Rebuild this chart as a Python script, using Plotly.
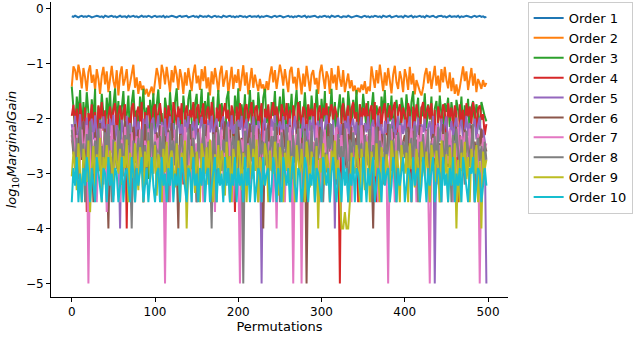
import plotly.graph_objects as go

permutations = list(range(0, 500, 2))

order1 = [-0.14,-0.15,-0.13,-0.14,-0.16,-0.14,-0.13,-0.15,-0.14,-0.15,-0.13,-0.14,-0.16,-0.15,-0.14,-0.13,-0.14,-0.15,-0.14,-0.16,-0.13,-0.14,-0.15,-0.14,-0.13,
 -0.15,-0.14,-0.16,-0.14,-0.13,-0.15,-0.14,-0.14,-0.16,-0.13,-0.15,-0.14,-0.13,-0.15,-0.14,-0.16,-0.14,-0.13,-0.15,-0.14,-0.15,-0.13,-0.14,-0.16,-0.14,
 -0.13,-0.15,-0.14,-0.14,-0.15,-0.13,-0.16,-0.14,-0.15,-0.14,-0.13,-0.14,-0.15,-0.16,-0.14,-0.13,-0.15,-0.14,-0.14,-0.13,-0.16,-0.15,-0.14,-0.13,-0.15,
 -0.14,-0.16,-0.13,-0.14,-0.15,-0.14,-0.15,-0.13,-0.14,-0.16,-0.14,-0.13,-0.15,-0.14,-0.15,-0.16,-0.13,-0.14,-0.15,-0.14,-0.13,-0.15,-0.14,-0.16,-0.14,
 -0.15,-0.13,-0.14,-0.15,-0.14,-0.16,-0.14,-0.13,-0.15,-0.14,-0.14,-0.15,-0.13,-0.16,-0.14,-0.15,-0.14,-0.13,-0.14,-0.15,-0.16,-0.14,-0.13,-0.15,-0.14,
 -0.13,-0.14,-0.16,-0.15,-0.14,-0.13,-0.15,-0.14,-0.16,-0.14,-0.15,-0.13,-0.14,-0.15,-0.14,-0.13,-0.16,-0.14,-0.15,-0.14,-0.14,-0.13,-0.15,-0.16,-0.14,
 -0.15,-0.14,-0.13,-0.15,-0.14,-0.16,-0.13,-0.14,-0.15,-0.14,-0.13,-0.15,-0.16,-0.14,-0.14,-0.15,-0.13,-0.14,-0.16,-0.15,-0.14,-0.13,-0.14,-0.15,-0.16,
 -0.14,-0.13,-0.15,-0.14,-0.16,-0.14,-0.15,-0.13,-0.14,-0.15,-0.14,-0.16,-0.13,-0.14,-0.15,-0.14,-0.13,-0.16,-0.15,-0.14,-0.13,-0.15,-0.14,-0.14,-0.16,
 -0.13,-0.14,-0.15,-0.14,-0.13,-0.16,-0.14,-0.15,-0.14,-0.13,-0.15,-0.14,-0.16,-0.13,-0.14,-0.15,-0.14,-0.13,-0.15,-0.16,-0.14,-0.14,-0.13,-0.15,-0.14,
 -0.16,-0.14,-0.13,-0.15,-0.14,-0.14,-0.15,-0.13,-0.16,-0.14,-0.15,-0.14,-0.13,-0.14,-0.15,-0.16,-0.14,-0.13,-0.15,-0.14,-0.13,-0.15,-0.14,-0.16,-0.15]

order2 = [-1.42,-1.05,-1.12,-1.30,-1.02,-1.18,-1.45,-1.08,-1.25,-1.50,-1.15,-1.03,-1.35,-1.20,-1.48,-1.10,-1.28,-1.55,-1.22,-1.06,-1.38,-1.14,-1.52,-1.26,-1.04,
 -1.32,-1.45,-1.12,-1.58,-1.20,-1.05,-1.40,-1.28,-1.10,-1.50,-1.36,-1.18,-1.02,-1.44,-1.25,-1.55,-1.32,-1.48,-1.40,-1.56,-1.46,-1.60,-1.52,-1.42,-1.58,
 -1.30,-1.08,-1.22,-1.46,-1.02,-1.15,-1.38,-1.06,-1.28,-1.52,-1.12,-1.34,-1.04,-1.20,-1.48,-1.10,-1.26,-1.55,-1.16,-1.40,-1.08,-1.30,-1.50,-1.18,-1.02,
 -1.36,-1.22,-1.48,-1.10,-1.32,-1.05,-1.45,-1.25,-1.58,-1.14,-1.38,-1.08,-1.28,-1.52,-1.18,-1.04,-1.42,-1.26,-1.12,-1.55,-1.30,-1.06,-1.46,-1.20,-1.35,
 -1.10,-1.50,-1.24,-1.03,-1.40,-1.16,-1.56,-1.30,-1.08,-1.44,-1.20,-1.36,-1.50,-1.28,-1.45,-1.38,-1.55,-1.32,-1.48,-1.22,-1.05,-1.34,-1.12,-1.46,-1.26,
 -1.02,-1.18,-1.40,-1.10,-1.30,-1.52,-1.14,-1.06,-1.36,-1.24,-1.48,-1.08,-1.28,-1.56,-1.18,-1.42,-1.04,-1.32,-1.50,-1.20,-1.12,-1.38,-1.26,-1.55,-1.16,
 -1.02,-1.30,-1.46,-1.14,-1.24,-1.55,-1.08,-1.36,-1.20,-1.48,-1.04,-1.28,-1.42,-1.12,-1.52,-1.34,-1.18,-1.45,-1.30,-1.50,-1.40,-1.56,-1.44,-1.52,-1.38,
 -1.48,-1.32,-1.55,-1.42,-1.50,-1.05,-1.26,-1.44,-1.12,-1.36,-1.02,-1.22,-1.50,-1.16,-1.40,-1.08,-1.30,-1.54,-1.20,-1.04,-1.34,-1.46,-1.14,-1.28,-1.52,
 -1.10,-1.24,-1.48,-1.06,-1.38,-1.18,-1.56,-1.30,-1.42,-1.50,-1.58,-1.44,-1.20,-1.08,-1.36,-1.14,-1.46,-1.28,-1.04,-1.40,-1.22,-1.52,-1.10,-1.34,-1.06,
 -1.30,-1.45,-1.16,-1.50,-1.26,-1.55,-1.38,-1.58,-1.44,-1.20,-1.05,-1.32,-1.14,-1.48,-1.24,-1.08,-1.40,-1.18,-1.52,-1.28,-1.36,-1.46,-1.30,-1.42,-1.35]

order3 = [-1.42,-1.85,-2.20,-1.60,-1.95,-1.48,-2.35,-1.70,-2.10,-1.52,-1.88,-2.45,-1.65,-2.05,-1.46,-3.40,-1.78,-2.15,-1.55,-1.92,-2.30,-1.62,-2.00,-1.50,-2.25,
 -1.75,-1.45,-2.10,-1.68,-2.60,-1.82,-1.50,-2.20,-1.95,-1.58,-2.40,-1.72,-1.48,-2.05,-1.85,-2.28,-1.60,-1.98,-1.46,-2.15,-1.80,-3.10,-1.66,-2.02,-1.54,
 -2.25,-1.76,-1.47,-2.10,-1.90,-2.50,-1.62,-1.85,-2.18,-1.52,-1.96,-2.35,-1.70,-1.45,-2.08,-1.82,-2.42,-1.58,-1.92,-2.20,-1.65,-1.48,-2.05,-2.70,-1.75,
 -1.55,-2.12,-1.88,-1.46,-2.30,-1.68,-2.00,-1.52,-2.22,-1.80,-1.60,-2.45,-1.92,-1.48,-2.15,-1.72,-2.02,-2.80,-1.64,-1.50,-2.10,-1.86,-2.35,-1.58,-1.95,
 -1.45,-2.20,-1.74,-2.05,-1.56,-2.40,-1.82,-1.48,-2.12,-1.66,-1.98,-2.30,-1.52,-1.88,-2.18,-1.62,-1.46,-2.08,-1.78,-2.55,-1.70,-1.95,-1.50,-2.25,-1.84,
 -1.60,-2.15,-1.46,-1.92,-2.38,-1.72,-2.02,-1.55,-2.20,-1.80,-1.48,-2.10,-1.68,-2.45,-1.86,-1.52,-2.00,-1.75,-2.28,-1.58,-1.94,-2.12,-1.47,-1.82,-2.32,
 -1.64,-2.05,-1.50,-2.60,-1.78,-1.96,-1.46,-2.18,-1.70,-2.40,-1.85,-1.56,-2.08,-1.62,-1.92,-2.25,-1.50,-1.80,-2.12,-1.66,-1.98,-1.48,-2.35,-1.74,-2.02,
 -1.55,-1.88,-2.20,-1.68,-3.20,-1.82,-1.52,-2.10,-1.76,-1.95,-2.42,-1.60,-1.90,-1.48,-2.15,-1.72,-2.05,-1.58,-2.30,-1.84,-1.66,-1.98,-2.50,-1.62,-1.80,
 -2.08,-1.56,-1.92,-2.25,-1.70,-1.50,-2.12,-1.86,-1.62,-2.38,-1.78,-1.96,-1.54,-2.18,-1.74,-2.02,-1.60,-2.45,-1.82,-1.68,-2.10,-1.58,-1.94,-2.28,-1.72,
 -1.88,-1.62,-2.15,-1.70,-1.95,-2.40,-1.66,-1.84,-2.05,-1.60,-2.22,-1.76,-1.98,-1.64,-2.30,-1.80,-1.68,-2.10,-1.74,-1.92,-2.20,-1.70,-1.86,-1.96,-2.05]

order4 = [-1.95,-1.75,-2.10,-1.82,-2.25,-1.72,-1.98,-2.35,-1.80,-3.70,-1.90,-2.05,-1.74,-2.18,-1.88,-2.40,-1.76,-2.00,-1.70,-2.22,-1.85,-3.52,-1.95,-1.78,-2.12,
 -1.84,-1.72,-2.30,-1.92,-1.76,-2.08,-1.86,-1.74,-4.00,-1.98,-2.20,-1.80,-1.72,-2.45,-1.90,-1.78,-2.05,-1.70,-3.52,-1.88,-2.15,-1.76,-1.96,-2.28,-1.82,
 -1.74,-2.10,-1.88,-1.72,-2.00,-3.52,-1.80,-2.25,-1.76,-1.94,-2.35,-1.70,-1.86,-2.12,-1.78,-2.02,-1.72,-3.20,-1.90,-1.76,-2.18,-1.84,-1.98,-1.70,-2.30,
 -1.82,-1.74,-2.08,-1.92,-1.72,-2.40,-1.86,-1.78,-2.15,-1.70,-1.96,-3.52,-1.80,-2.05,-1.74,-2.22,-1.88,-1.72,-2.00,-1.84,-2.32,-1.76,-1.90,-3.70,-1.78,
 -2.10,-1.72,-1.94,-2.26,-1.80,-1.74,-2.05,-1.88,-1.70,-2.38,-1.84,-1.76,-2.12,-1.92,-1.72,-3.52,-1.82,-2.00,-1.74,-2.20,-1.86,-1.70,-2.08,-1.78,-1.96,
 -2.30,-1.74,-1.88,-2.02,-1.72,-2.15,-1.84,-3.52,-1.76,-1.98,-2.25,-1.70,-1.90,-2.10,-1.78,-1.86,-2.40,-1.74,-1.96,-1.82,-2.05,-1.72,-3.00,-1.88,-1.76,
 -2.18,-1.80,-1.94,-1.72,-2.28,-1.86,-1.74,-2.02,-1.78,-1.92,-2.12,-5.00,-1.84,-1.72,-2.20,-1.90,-1.76,-2.35,-1.82,-1.70,-2.00,-1.88,-3.52,-1.74,-2.10,
 -1.80,-1.96,-1.72,-2.22,-1.86,-1.76,-2.05,-1.70,-3.52,-1.90,-1.78,-2.15,-1.84,-1.72,-2.30,-1.94,-1.76,-2.02,-1.82,-1.70,-2.42,-1.88,-1.74,-2.08,-1.80,
 -1.92,-2.20,-1.72,-1.86,-3.52,-1.78,-2.05,-1.74,-1.96,-2.32,-1.82,-1.70,-2.12,-1.88,-1.76,-2.00,-1.72,-2.25,-1.84,-3.20,-1.78,-1.94,-2.10,-1.74,-1.86,
 -2.35,-1.72,-1.98,-1.80,-2.15,-1.76,-1.90,-3.52,-1.74,-2.05,-1.84,-2.28,-1.72,-1.96,-1.78,-2.10,-1.70,-1.88,-2.20,-1.82,-1.76,-2.02,-1.92,-2.30,-2.10]

order5 = [-2.10,-2.35,-1.95,-2.50,-2.20,-1.92,-2.60,-2.05,-2.30,-1.98,-2.45,-2.15,-2.00,-2.38,-1.94,-2.25,-2.55,-2.02,-2.18,-1.96,-2.40,-2.10,-2.65,-2.00,-2.28,
 -1.93,-2.50,-2.12,-2.35,-4.00,-2.02,-2.20,-2.48,-1.95,-2.30,-2.08,-2.60,-2.15,-1.97,-2.42,-2.05,-2.25,-3.00,-2.00,-2.32,-1.94,-2.18,-2.45,-2.06,-1.98,
 -2.38,-2.12,-1.94,-2.58,-2.06,-2.28,-2.00,-2.42,-2.15,-1.96,-2.35,-2.08,-2.50,-2.22,-1.98,-2.30,-2.10,-2.45,-2.02,-2.25,-1.95,-2.55,-2.15,-2.05,-2.38,
 -2.00,-2.60,-2.18,-1.97,-2.32,-2.10,-2.48,-2.02,-2.25,-1.95,-2.40,-2.12,-2.00,-2.30,-2.55,-2.08,-1.96,-2.35,-2.20,-2.05,-2.45,-1.94,-2.28,-2.10,-2.52,
 -2.02,-2.20,-1.95,-2.40,-2.14,-2.00,-2.62,-2.08,-2.30,-1.96,-2.18,-2.44,-2.04,-2.26,-5.00,-2.10,-1.98,-2.36,-2.12,-2.50,-2.00,-2.22,-1.94,-2.40,-2.15,
 -2.05,-2.32,-1.96,-2.55,-2.10,-2.25,-2.00,-2.42,-2.16,-1.95,-2.30,-2.06,-2.48,-2.20,-1.98,-2.35,-2.10,-2.60,-2.02,-2.24,-1.96,-2.40,-2.12,-2.04,-2.30,
 -2.00,-2.50,-2.15,-1.94,-2.28,-2.08,-2.45,-2.02,-4.00,-2.18,-1.98,-2.35,-2.10,-2.55,-2.04,-2.22,-1.95,-2.42,-2.12,-2.00,-2.30,-2.06,-2.58,-2.16,-1.97,
 -2.36,-2.08,-2.25,-1.96,-2.48,-2.14,-2.02,-2.40,-2.20,-1.94,-2.32,-2.10,-2.60,-2.04,-2.26,-1.98,-2.44,-2.12,-2.00,-2.36,-2.18,-1.95,-2.50,-2.08,-2.28,
 -2.02,-2.40,-2.14,-1.96,-2.55,-2.20,-2.05,-2.34,-1.98,-2.46,-2.10,-2.25,-2.00,-2.60,-2.16,-2.04,-2.38,-1.95,-5.00,-2.22,-2.08,-2.42,-2.00,-2.30,-2.12,
 -1.96,-2.48,-2.20,-2.04,-2.36,-2.10,-1.98,-2.55,-2.14,-2.02,-2.40,-2.24,-1.95,-2.32,-2.08,-2.50,-2.16,-2.00,-2.38,-2.12,-1.98,-2.45,-2.20,-2.40,-5.00]

order6 = [-2.30,-2.65,-2.10,-2.90,-2.45,-2.20,-2.75,-2.05,-2.55,-2.35,-2.80,-2.15,-2.60,-3.52,-2.25,-2.95,-2.40,-2.08,-2.70,-2.50,-2.18,-2.85,-4.00,-2.32,-2.62,
 -2.12,-2.45,-2.78,-2.22,-2.55,-3.20,-2.38,-2.05,-2.68,-2.90,-2.28,-2.52,-2.15,-2.80,-2.42,-2.20,-2.65,-2.35,-2.95,-2.10,-2.72,-2.30,-2.58,-2.18,-2.88,
 -2.40,-2.25,-2.62,-2.12,-2.78,-2.45,-2.32,-2.95,-2.20,-2.55,-2.08,-2.70,-2.38,-2.85,-4.00,-2.28,-2.50,-2.90,-2.22,-2.68,-2.42,-2.10,-2.80,-2.35,-2.58,
 -3.52,-2.18,-2.72,-2.45,-2.30,-2.95,-2.12,-2.62,-2.40,-2.85,-2.25,-2.55,-2.15,-2.78,-2.48,-2.32,-2.60,-2.05,-2.90,-2.38,-2.20,-2.70,-2.45,-2.28,-2.82,
 -2.15,-2.58,-2.35,-2.92,-2.22,-2.65,-2.42,-2.10,-2.75,-2.50,-2.30,-2.88,-2.18,-2.60,-2.40,-4.00,-2.25,-2.72,-2.08,-2.55,-2.95,-2.32,-2.48,-2.15,-2.68,
 -2.38,-2.82,-2.20,-2.52,-2.30,-2.90,-2.12,-2.62,-2.45,-2.75,-2.28,-2.05,-2.58,-2.35,-2.88,-2.18,-5.00,-2.70,-2.42,-2.22,-2.95,-2.50,-2.32,-2.65,-2.15,
 -2.78,-2.40,-2.25,-2.98,-2.10,-2.60,-2.45,-2.30,-2.85,-2.18,-2.55,-2.38,-2.72,-2.08,-2.62,-2.92,-2.28,-2.48,-2.15,-2.80,-2.35,-2.58,-2.22,-2.70,-2.42,
 -2.12,-2.88,-2.32,-2.55,-2.20,-2.75,-4.00,-2.40,-2.62,-2.15,-2.95,-2.28,-2.50,-2.38,-2.82,-2.10,-2.68,-2.45,-2.25,-2.90,-2.35,-2.58,-2.18,-2.72,-2.42,
 -2.30,-2.85,-2.15,-2.60,-2.48,-2.22,-2.95,-2.38,-2.70,-2.12,-2.55,-2.32,-2.80,-2.20,-2.65,-3.52,-2.42,-2.28,-2.90,-2.18,-2.58,-2.45,-2.75,-2.10,-2.62,
 -2.35,-2.88,-2.22,-2.52,-2.40,-2.78,-2.15,-2.68,-2.30,-2.95,-2.45,-2.20,-2.62,-2.38,-2.85,-2.12,-2.58,-2.42,-2.75,-2.28,-2.50,-2.18,-2.70,-2.48,-2.60]

order7 = [-2.40,-2.15,-2.85,-2.30,-3.20,-2.60,-2.20,-2.70,-2.45,-2.12,-5.00,-2.55,-2.25,-2.90,-2.35,-3.52,-2.65,-2.18,-2.80,-2.50,-2.28,-3.70,-2.42,-2.75,-2.12,
 -3.00,-2.40,-2.60,-2.22,-3.52,-2.38,-2.88,-2.15,-2.68,-2.48,-3.20,-2.25,-2.78,-2.55,-2.32,-2.95,-2.20,-2.62,-3.52,-2.40,-2.72,-2.18,-2.85,-2.45,-3.00,
 -2.28,-2.58,-2.35,-2.82,-2.12,-2.70,-5.00,-2.50,-2.25,-3.52,-2.40,-2.92,-2.20,-2.65,-2.48,-3.20,-2.30,-2.75,-2.15,-2.55,-2.88,-2.38,-3.52,-2.22,-2.62,
 -2.45,-2.95,-2.18,-2.70,-3.52,-2.32,-2.58,-2.12,-2.85,-2.40,-2.68,-3.70,-2.25,-2.78,-2.50,-2.20,-3.00,-2.42,-2.62,-2.15,-2.90,-2.35,-3.52,-2.55,-2.28,
 -2.72,-5.00,-2.38,-2.60,-2.18,-2.88,-2.45,-3.20,-2.25,-2.68,-2.52,-2.12,-2.95,-2.35,-3.52,-2.58,-2.22,-2.80,-2.42,-2.65,-2.15,-3.52,-2.48,-4.00,-2.30,
 -2.78,-2.20,-2.55,-3.52,-2.38,-2.90,-2.15,-2.62,-5.00,-2.45,-2.28,-2.72,-2.18,-5.00,-2.50,-2.35,-2.85,-3.20,-2.22,-2.60,-2.42,-2.95,-2.12,-2.68,-3.52,
 -2.32,-2.58,-2.20,-2.82,-2.45,-3.52,-2.25,-2.70,-2.40,-2.15,-2.92,-2.52,-2.30,-3.00,-2.62,-2.18,-2.78,-2.42,-3.52,-2.22,-2.55,-2.88,-2.35,-2.65,-2.12,
 -2.48,-3.20,-2.28,-2.75,-2.40,-2.60,-2.15,-2.95,-2.38,-3.52,-2.22,-2.68,-2.50,-2.32,-2.85,-5.00,-2.45,-2.18,-2.72,-3.52,-2.30,-2.58,-2.12,-2.80,-2.42,
 -2.65,-2.25,-3.00,-2.52,-2.18,-2.78,-2.40,-3.52,-2.30,-2.62,-2.15,-2.88,-2.45,-2.22,-3.20,-5.00,-2.55,-2.35,-2.72,-2.12,-2.95,-2.48,-3.52,-2.28,-2.60,
 -2.38,-2.82,-2.20,-2.55,-3.52,-2.42,-2.70,-2.15,-2.92,-2.32,-2.58,-2.25,-3.00,-2.48,-2.18,-2.75,-2.40,-3.52,-2.62,-2.28,-5.00,-2.85,-2.35,-2.55,-2.45]

order8 = [-2.20,-2.55,-2.90,-2.35,-3.10,-2.15,-2.70,-2.45,-3.52,-2.28,-2.80,-2.05,-2.62,-3.00,-2.40,-2.75,-2.18,-2.95,-2.50,-3.20,-2.25,-2.68,-2.10,-2.85,-3.52,
 -2.38,-2.60,-2.92,-2.20,-2.72,-2.45,-3.05,-2.30,-2.55,-2.12,-2.82,-4.00,-2.40,-3.52,-2.65,-2.35,-2.78,-2.20,-2.98,-2.48,-3.20,-2.25,-2.70,-2.08,-2.88,
 -2.42,-2.60,-3.10,-2.32,-2.75,-2.15,-2.95,-2.50,-3.52,-2.22,-2.68,-2.40,-2.85,-2.12,-3.00,-2.55,-2.30,-2.78,-2.45,-3.20,-2.18,-2.62,-2.92,-2.35,-2.72,
 -3.52,-2.25,-2.58,-2.88,-2.10,-2.65,-3.05,-2.42,-2.80,-4.00,-2.28,-2.55,-3.52,-2.20,-2.70,-2.95,-2.38,-2.62,-2.15,-2.85,-3.52,-2.48,-2.32,-2.75,-2.05,
 -2.90,-2.40,-2.68,-5.00,-2.22,-2.58,-3.20,-2.35,-2.78,-2.12,-2.95,-2.50,-3.52,-2.28,-2.65,-2.42,-2.85,-2.18,-3.05,-2.55,-2.32,-2.72,-2.08,-2.92,-2.45,
 -3.52,-2.25,-2.62,-2.88,-2.15,-2.70,-2.40,-3.10,-2.30,-2.80,-2.52,-2.18,-2.95,-2.45,-3.52,-2.22,-2.68,-2.38,-2.85,-2.12,-3.00,-2.58,-2.35,-2.75,-2.48,
 -2.20,-3.52,-2.62,-2.90,-2.32,-2.55,-2.10,-2.82,-2.42,-3.20,-2.28,-2.70,-2.50,-2.95,-2.18,-2.65,-3.52,-2.38,-2.78,-2.25,-2.58,-2.88,-2.12,-2.72,-2.45,
 -3.05,-2.30,-2.60,-2.85,-2.20,-3.52,-2.48,-2.75,-2.15,-2.92,-2.40,-2.62,-3.20,-2.28,-2.80,-2.52,-2.10,-2.95,-2.38,-2.68,-3.52,-2.25,-2.55,-2.85,-2.42,
 -2.72,-2.18,-3.00,-2.50,-2.35,-2.88,-2.12,-2.62,-3.52,-2.42,-2.78,-2.28,-2.95,-2.55,-2.20,-3.10,-2.45,-2.70,-2.32,-2.85,-2.15,-3.52,-2.60,-2.40,-2.92,
 -2.25,-2.68,-2.48,-3.52,-2.30,-2.82,-2.18,-2.58,-2.95,-2.38,-2.72,-3.20,-2.22,-2.62,-2.88,-2.45,-2.10,-3.52,-2.55,-2.35,-2.78,-2.50,-3.00,-2.42,-2.75]

order9 = [-3.05,-2.60,-2.85,-3.30,-2.45,-2.95,-3.52,-2.55,-2.75,-3.15,-2.40,-3.70,-2.88,-2.50,-3.25,-2.65,-2.98,-2.35,-3.52,-2.70,-2.92,-2.48,-3.10,-2.58,-2.82,
 -3.40,-2.42,-2.78,-3.00,-2.55,-3.20,-2.68,-2.90,-2.38,-3.52,-2.62,-2.85,-3.08,-2.45,-2.95,-3.30,-2.52,-2.75,-3.52,-2.60,-2.88,-2.40,-3.15,-2.70,-3.00,
 -2.48,-3.40,-2.65,-2.82,-3.52,-2.55,-2.98,-2.42,-3.10,-2.72,-2.58,-2.90,-3.25,-2.45,-2.78,-3.52,-2.62,-2.95,-2.40,-4.00,-2.85,-3.05,-2.50,-2.72,-3.35,
 -2.60,-2.88,-3.52,-2.45,-2.70,-3.00,-2.52,-3.20,-2.38,-2.80,-3.52,-2.65,-2.92,-2.48,-3.15,-2.58,-2.75,-3.40,-2.42,-2.98,-2.68,-3.52,-2.55,-2.85,-3.05,
 -2.40,-2.72,-3.30,-2.62,-2.90,-3.52,-2.48,-2.78,-3.10,-2.55,-2.95,-2.38,-3.52,-2.70,-2.85,-3.20,-2.45,-2.65,-3.52,-2.58,-2.92,-3.00,-2.42,-2.80,-3.40,
 -2.52,-2.75,-3.52,-2.62,-2.95,-2.40,-3.15,-2.68,-2.88,-3.52,-2.48,-2.78,-3.05,-2.55,-2.92,-3.52,-2.42,-2.70,-3.25,-2.60,-2.85,-3.52,-2.50,-4.00,-2.72,
 -2.98,-2.45,-3.20,-2.65,-2.82,-3.52,-2.58,-2.90,-2.40,-3.10,-2.75,-3.52,-4.00,-4.00,-3.70,-4.00,-4.00,-3.52,-2.62,-2.88,-3.00,-2.48,-2.78,-3.52,-2.55,
 -2.92,-3.30,-2.42,-2.70,-3.52,-2.60,-2.85,-3.05,-2.45,-2.95,-3.52,-2.52,-2.78,-3.20,-2.65,-2.90,-3.52,-2.40,-2.72,-3.10,-2.58,-2.88,-3.52,-2.48,-2.80,
 -3.00,-2.62,-3.52,-2.45,-2.92,-2.70,-3.25,-2.55,-2.85,-3.52,-2.42,-2.78,-3.05,-2.60,-2.95,-3.52,-2.48,-2.72,-3.15,-2.58,-2.88,-3.52,-2.40,-2.80,-3.00,
 -2.65,-3.52,-2.52,-2.90,-3.20,-2.45,-4.00,-2.75,-3.52,-2.62,-2.98,-2.42,-3.10,-2.70,-3.52,-2.55,-2.85,-3.00,-2.48,-3.52,-2.78,-4.00,-2.60,-2.92,-2.75]

order10 = [-3.52,-2.90,-3.22,-2.70,-3.52,-3.00,-3.52,-2.90,-3.22,-2.70,-3.00,-3.52,-2.90,-3.22,-3.52,-2.70,-3.00,-3.22,-3.52,-2.90,-3.00,-3.52,-2.70,-3.22,-3.00,
 -3.52,-2.90,-3.00,-3.52,-3.22,-2.70,-3.52,-3.00,-2.90,-3.22,-3.52,-2.70,-3.00,-3.52,-2.90,-3.22,-3.00,-2.70,-3.52,-3.22,-2.90,-3.52,-3.00,-2.70,-3.22,
 -3.52,-3.00,-2.90,-3.52,-2.70,-3.22,-3.00,-3.52,-2.90,-3.22,-2.70,-3.52,-3.00,-3.22,-2.90,-3.52,-2.70,-3.00,-3.22,-3.52,-2.90,-3.00,-3.52,-2.70,-3.22,
 -3.00,-3.52,-2.90,-3.22,-2.70,-3.52,-3.00,-2.90,-3.52,-3.22,-3.00,-2.70,-3.52,-2.90,-3.22,-3.00,-3.52,-2.70,-3.22,-2.90,-3.52,-3.00,-3.22,-2.70,-3.52,
 -2.90,-3.22,-3.00,-3.52,-2.70,-3.22,-2.90,-3.52,-3.00,-2.70,-3.52,-3.22,-2.90,-3.00,-3.52,-2.70,-3.22,-3.00,-2.90,-3.52,-3.22,-2.70,-3.00,-3.52,-2.90,
 -3.22,-3.52,-2.70,-3.00,-3.22,-2.90,-3.52,-3.00,-2.70,-3.22,-3.52,-2.90,-3.00,-3.52,-3.22,-2.70,-2.90,-3.52,-3.00,-3.22,-2.70,-3.52,-2.90,-3.00,-3.22,
 -3.52,-2.70,-3.00,-3.22,-2.90,-3.52,-3.00,-2.70,-3.22,-3.52,-2.90,-3.00,-3.52,-2.70,-3.22,-2.90,-3.52,-3.00,-3.22,-2.70,-3.52,-2.90,-3.00,-3.22,-3.52,
 -2.70,-3.00,-3.52,-2.90,-3.22,-3.00,-2.70,-3.52,-3.22,-2.90,-3.00,-3.52,-2.70,-3.22,-3.00,-2.90,-3.52,-3.22,-2.70,-3.00,-3.52,-2.90,-3.22,-3.00,-2.70,
 -3.52,-3.22,-2.90,-3.00,-3.52,-2.70,-3.22,-3.00,-2.90,-3.52,-3.22,-2.70,-3.00,-3.52,-2.90,-3.22,-3.00,-2.70,-3.52,-3.22,-2.90,-3.00,-3.52,-2.70,-3.22,
 -3.00,-3.52,-2.90,-3.22,-2.70,-3.52,-3.00,-3.22,-2.90,-3.52,-2.70,-3.00,-3.22,-3.52,-2.90,-3.00,-2.70,-3.52,-3.22,-2.90,-3.00,-3.52,-3.22,-2.90,-3.22]

series_names = ["Order 1", "Order 2", "Order 3", "Order 4", "Order 5",
                "Order 6", "Order 7", "Order 8", "Order 9", "Order 10"]
series_values = [order1, order2, order3, order4, order5,
                 order6, order7, order8, order9, order10]
colors = ["#1f77b4", "#ff7f0e", "#2ca02c", "#d62728", "#9467bd",
          "#8c564b", "#e377c2", "#7f7f7f", "#bcbd22", "#17becf"]

fig = go.Figure()
for name, vals, c in zip(series_names, series_values, colors):
    fig.add_trace(go.Scatter(x=permutations[:len(vals)], y=vals, mode="lines", name=name,
                             line=dict(color=c, width=2)))

font = dict(family="DejaVu Sans", size=12, color="black")
title_font = dict(family="DejaVu Sans", size=13, color="black")
fig.update_layout(
    width=640, height=337,
    margin=dict(l=51, r=132, t=2, b=40, autoexpand=False),
    paper_bgcolor="white", plot_bgcolor="white",
    font=font,
    showlegend=True,
    legend=dict(x=1.043, y=1.0, xanchor="left", yanchor="top",
                bordercolor="#cccccc", borderwidth=1, bgcolor="white",
                font=dict(family="DejaVu Sans", size=13, color="black"),
                itemwidth=30, tracegroupgap=0),
    xaxis=dict(range=[-24.95, 523.95], tickvals=[0, 100, 200, 300, 400, 500],
               showgrid=False, zeroline=False, showline=True, linecolor="black",
               linewidth=1, ticks="outside", ticklen=4, tickcolor="black",
               automargin=False,
               title=dict(text="Permutations", standoff=2, font=title_font)),
    yaxis=dict(range=[-5.244, 0.12], tickvals=[-5, -4, -3, -2, -1, 0],
               showgrid=False, zeroline=False, showline=True, linecolor="black",
               linewidth=1, ticks="outside", ticklen=4, tickcolor="black",
               automargin=False,
               title=dict(text="<i>log</i><sub>10</sub><i>MarginalGain</i>",
                          standoff=6, font=title_font)),
)

fig.write_html("out.html", config={"displayModeBar": False},
               post_script="document.body.style.margin='0';document.body.style.overflow='hidden';")
